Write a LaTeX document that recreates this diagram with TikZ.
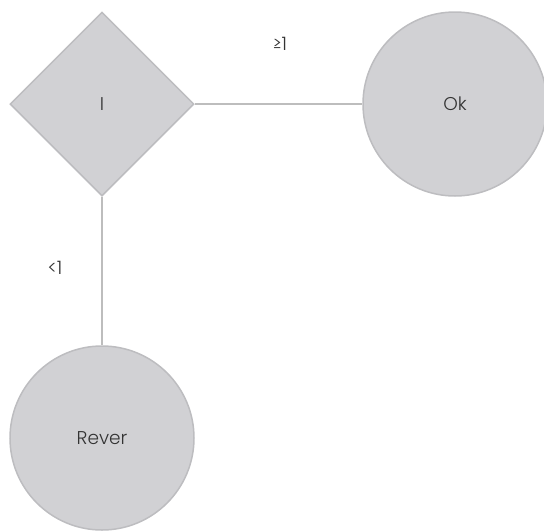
\documentclass[tikz,border=0pt]{standalone}
\usepackage{fontspec}
\setmainfont{Poppins Light}
\usetikzlibrary{shapes.geometric}
\definecolor{nodefill}{HTML}{D1D1D4}
\definecolor{nodeedge}{HTML}{BDBDC0}
\definecolor{edgecol}{HTML}{BDBDBD}
\definecolor{txt}{HTML}{333333}
\tikzset{
  every node/.style={font=\fontsize{18.5pt}{20pt}\selectfont, text=txt},
  decision/.style={diamond, draw=nodeedge, fill=nodefill, line width=1.5pt, minimum width=184pt, minimum height=184pt, inner sep=0pt, aspect=1},
  endstate/.style={circle, draw=nodeedge, fill=nodefill, line width=1.5pt, minimum size=184pt, inner sep=0pt},
  link/.style={draw=edgecol, line width=1.5pt},
  lbl/.style={inner sep=0pt}
}
\begin{document}
\begin{tikzpicture}[x=1pt,y=-1pt]
\useasboundingbox (0,0) rectangle (544,531);
\node[decision] (d) at (102,104) {I};
\node[endstate] (ok) at (455,104) {Ok};
\node[endstate] (rev) at (102,438) {Rever};
\draw[link] (d.east) -- (ok.west);
\draw[link] (d.south) -- (rev.north);
\node[lbl] (g) at (280,44) {≥1};
\node[lbl] (l) at (55,268) {<1};
\end{tikzpicture}
\end{document}
